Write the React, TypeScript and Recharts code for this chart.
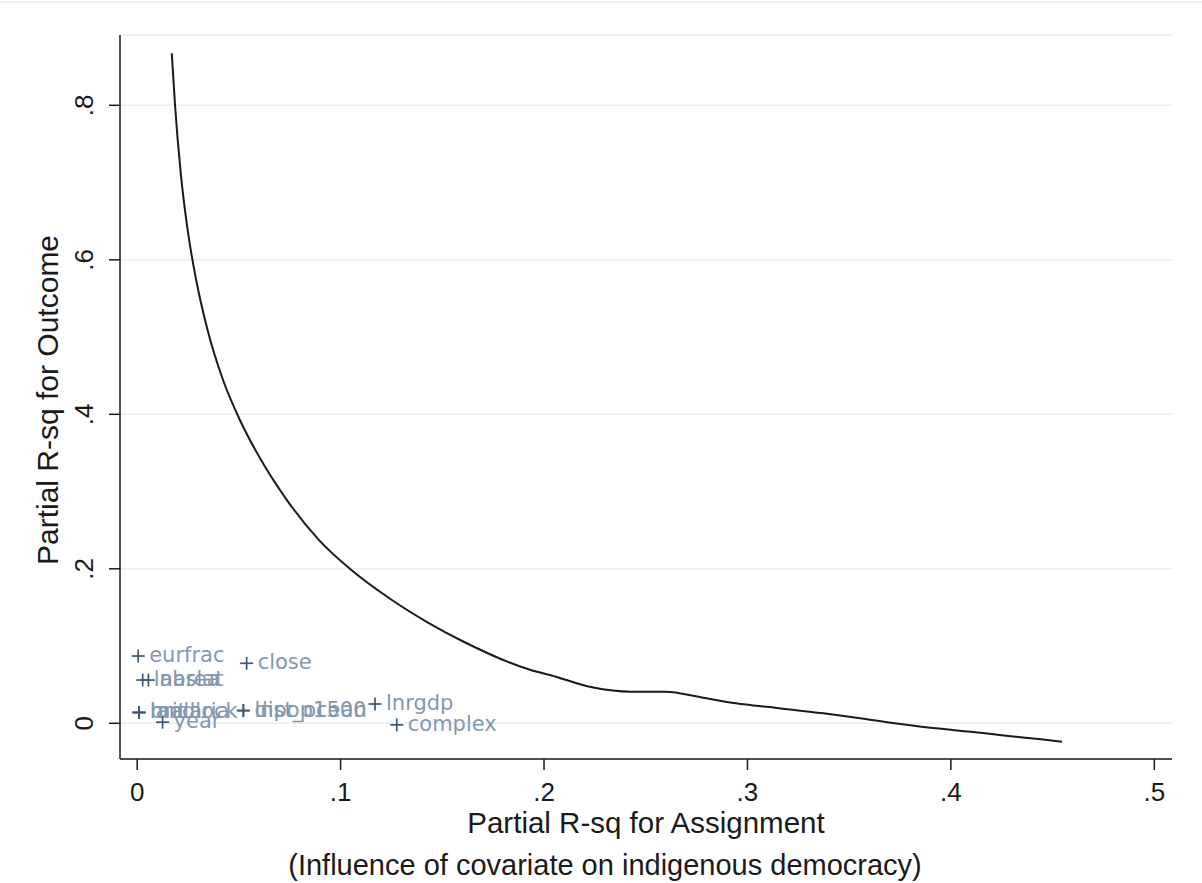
import { ComposedChart, Line, Scatter, XAxis, YAxis, CartesianGrid } from 'recharts';

const INK = '#1a1a1a';
const GRID = '#e9f0f2';
const MARKER = '#3f566f';
const LABEL = '#8497b0';
const FONT = '"Liberation Sans", Arial, sans-serif';

// bias-adjustment threshold curve
const curveX = [
  0.017, 0.0186, 0.0214, 0.0248, 0.029, 0.0346, 0.0422, 0.0505, 0.0609, 0.0736, 0.0894, 0.1053,
  0.1252, 0.1425, 0.1605, 0.1931, 0.2029, 0.2236, 0.2426, 0.2598, 0.277, 0.2943, 0.3133, 0.3374, 0.3581,
  0.3753, 0.3925, 0.4098, 0.4271, 0.4443, 0.4546,
];
const curveY = [
  0.8673, 0.8004, 0.7124, 0.6386, 0.5738, 0.5091, 0.4444, 0.3926, 0.3408, 0.289, 0.2372, 0.1984,
  0.1596, 0.1311, 0.1056, 0.0693, 0.0625, 0.0466, 0.0409, 0.0409, 0.0337, 0.0259, 0.0202, 0.0129, 0.0056,
  -0.0009, -0.0065, -0.0109, -0.0161, -0.0207, -0.0238,
];

// covariates: partial R-sq for assignment / outcome
const covNames = [
  'eurfrac', 'close', 'lnarea', 'abslat', 'brit', 'landlock', 'malaria', 'year',
  'lnpop1500', 'dist_ocean', 'lnrgdp', 'complex',
];
const covX = [0.0005, 0.0538, 0.0027, 0.0055, 0.0009, 0.0009, 0.0009, 0.0125, 0.0522, 0.0522, 0.1169, 0.1276];
const covY = [0.0871, 0.0777, 0.056, 0.056, 0.014, 0.014, 0.014, 0.0015, 0.0165, 0.0165, 0.025, -0.002];

const xTicks = [0, 0.1, 0.2, 0.3, 0.4, 0.5];
const yTicks = [0, 0.2, 0.4, 0.6, 0.8];

const curve = curveX.map((x, i) => ({ x, y: curveY[i] }));
const covariates = covNames.map((name, i) => ({ name, x: covX[i], y: covY[i] }));

const fmt = (v: number) => (v === 0 ? '0' : String(v).replace(/^0/, ''));

const XTick = ({ x, y, payload }: any) => (
  <text x={x} y={y} dy={29} textAnchor="middle" fontSize={26} fontFamily={FONT} fill={INK}>
    {fmt(payload.value)}
  </text>
);

const YTick = ({ x, y, payload }: any) => (
  <text
    x={x - 23}
    y={y}
    dy="0.35em"
    textAnchor="middle"
    transform={`rotate(-90, ${x - 23}, ${y})`}
    fontSize={26}
    fontFamily={FONT}
    fill={INK}
  >
    {fmt(payload.value)}
  </text>
);

const PlusLabel = ({ cx, cy, payload }: any) => (
  <g>
    <line x1={cx - 6.5} x2={cx + 6.5} y1={cy} y2={cy} stroke={MARKER} strokeWidth={1.7} />
    <line x1={cx} x2={cx} y1={cy - 6.5} y2={cy + 6.5} stroke={MARKER} strokeWidth={1.7} />
    <text x={cx + 11} y={cy} dy={6} fontSize={21} fontFamily='"DejaVu Sans", Verdana, sans-serif' fill={LABEL}>
      {payload.name}
    </text>
  </g>
);

const XTitle = ({ viewBox }: any) => {
  const cx = viewBox.x + viewBox.width / 2;
  return (
    <g fontFamily={FONT} fill={INK}>
      <text x={cx} y={viewBox.y + 74} textAnchor="middle" fontSize={29.5}>
        Partial R-sq for Assignment
      </text>
      <text x={cx - 41} y={viewBox.y + 116} textAnchor="middle" fontSize={29}>
        (Influence of covariate on indigenous democracy)
      </text>
    </g>
  );
};

const YTitle = ({ viewBox }: any) => {
  const cx = 47;
  const cy = viewBox.y + viewBox.height / 2 + 3;
  return (
    <text
      x={cx}
      y={cy}
      dy="0.35em"
      textAnchor="middle"
      transform={`rotate(-90, ${cx}, ${cy})`}
      fontSize={30}
      fontFamily={FONT}
      fill={INK}
    >
      Partial R-sq for Outcome
    </text>
  );
};

export default function App() {
  return (
    <div style={{ position: 'absolute', left: 0, top: 0, width: 1202, height: 883, background: '#fff', overflow: 'hidden' }}>
      <div style={{ position: 'absolute', left: 0, top: 1, width: 1202, height: 2, background: '#edf0f4' }} />
      <ComposedChart width={1202} height={883} margin={{ top: 35, right: 30, left: 0, bottom: 0 }}>
        <CartesianGrid horizontal vertical={false} stroke={GRID} strokeWidth={1.5} />
        <XAxis
          type="number"
          dataKey="x"
          domain={[-0.00845, 0.5087]}
          ticks={xTicks}
          allowDataOverflow
          height={124}
          tickSize={11}
          tick={<XTick />}
          axisLine={{ stroke: INK, strokeWidth: 1.5 }}
          tickLine={{ stroke: INK, strokeWidth: 1.5 }}
          label={<XTitle />}
        />
        <YAxis
          type="number"
          dataKey="y"
          domain={[-0.0462, 0.891]}
          ticks={yTicks}
          allowDataOverflow
          width={120}
          tickSize={11}
          tick={<YTick />}
          axisLine={{ stroke: INK, strokeWidth: 1.5 }}
          tickLine={{ stroke: INK, strokeWidth: 1.5 }}
          label={<YTitle />}
        />
        <Line
          data={curve}
          dataKey="y"
          type="monotone"
          stroke={INK}
          strokeWidth={2}
          dot={false}
          activeDot={false}
          isAnimationActive={false}
        />
        <Scatter data={covariates} dataKey="y" shape={<PlusLabel />} isAnimationActive={false} />
      </ComposedChart>
    </div>
  );
}
